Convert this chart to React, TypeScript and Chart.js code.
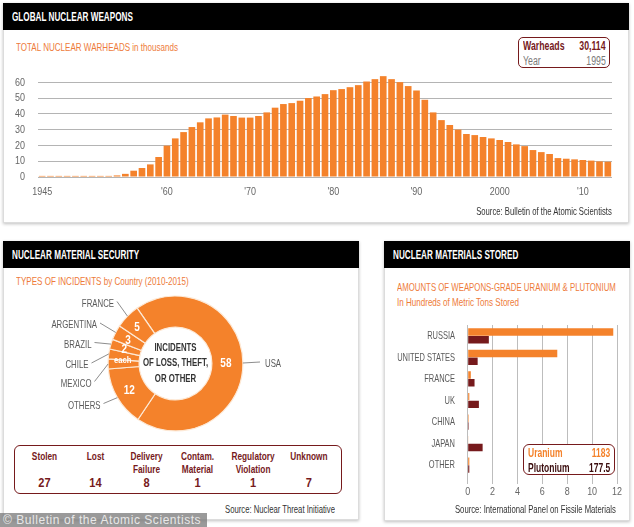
import { useEffect, useRef } from 'react';
import { Chart, registerables } from 'chart.js';

Chart.register(...registerables);

// no condensed face is installed, so Arial-metric text gets squeezed horizontally
const FONT = "'Liberation Sans', Arial, sans-serif";
const SX = 0.7;
const ORANGE = '#f4822b';
const SUB = '#ee7b3a';
const DARKRED = '#761a1c';

// --- global warheads (thousands) ---
const years = [
  1945, 1946, 1947, 1948, 1949, 1950, 1951, 1952, 1953, 1954,
  1955, 1956, 1957, 1958, 1959, 1960, 1961, 1962, 1963, 1964,
  1965, 1966, 1967, 1968, 1969, 1970, 1971, 1972, 1973, 1974,
  1975, 1976, 1977, 1978, 1979, 1980, 1981, 1982, 1983, 1984,
  1985, 1986, 1987, 1988, 1989, 1990, 1991, 1992, 1993, 1994,
  1995, 1996, 1997, 1998, 1999, 2000, 2001, 2002, 2003, 2004,
  2005, 2006, 2007, 2008, 2009, 2010, 2011, 2012, 2013,
];
const warheads = [
  0.7, 0.7, 0.7, 0.7, 0.7, 0.7, 0.7, 0.7, 0.7, 1.0,
  2.0, 4.0, 5.7, 8.0, 12.7, 19.9, 24.5, 28.5, 31.7, 34.7,
  37.2, 37.8, 39.6, 38.7, 37.7, 37.7, 38.7, 41.0, 44.0, 46.3,
  46.9, 48.4, 50.1, 51.1, 52.6, 55.1, 55.8, 57.0, 58.3, 60.6,
  62.1, 64.0, 62.1, 60.2, 57.7, 54.9, 49.0, 41.0, 36.1, 33.0,
  30.1, 27.3, 26.6, 25.4, 24.5, 23.5, 22.2, 20.7, 19.6, 17.1,
  15.8, 14.6, 12.0, 11.6, 11.2, 10.8, 10.4, 9.9, 9.7,
];
const yearTicks = [1945, 1960, 1970, 1980, 1990, 2000, 2010];
const yearTickLabels = ['1945', "'60", "'70", "'80", "'90", '2000', "'10"];

// --- incidents by country ---
const countries = ['USA', 'OTHERS', 'MEXICO', 'CHILE', 'BRAZIL', 'ARGENTINA', 'FRANCE'];
const incidents = [58, 12, 2, 2, 2, 3, 5];
const sliceLabels = ['58', '12', '', 'each', '2', '3', '5'];
const centerLines = ['INCIDENTS', 'OF LOSS, THEFT,', 'OR OTHER'];

const incidentTypes = [['Stolen'], ['Lost'], ['Delivery', 'Failure'], ['Contam.', 'Material'], ['Regulatory', 'Violation'], ['Unknown']];
const incidentTypeCounts = [27, 14, 8, 1, 1, 7];

// --- materials stored (hundreds of metric tons) ---
const storageCountries = ['RUSSIA', 'UNITED STATES', 'FRANCE', 'UK', 'CHINA', 'JAPAN', 'OTHER'];
const uranium = [11.7, 7.2, 0.25, 0.13, 0.08, 0.05, 0.13];
const plutonium = [1.7, 0.8, 0.55, 0.9, 0.08, 1.2, 0.13];
const storageTicks = [0, 2, 4, 6, 8, 10, 12];

// leader line ends for the donut labels, relative to the donut centre
const callouts = [
  { dx: 84.5, dy: -1.5 },
  { dx: -72, dy: 40 },
  { dx: -81, dy: 18 },
  { dx: -84, dy: -0.5 },
  { dx: -81, dy: -21 },
  { dx: -75.5, dy: -40.5 },
  { dx: -58.5, dy: -62 },
];

function drawSqueezed(ctx: any, text: string, x: number, y: number, align: string, sx: number) {
  ctx.save();
  ctx.translate(x, y);
  ctx.scale(sx, 1);
  ctx.textAlign = align;
  ctx.textBaseline = 'middle';
  ctx.fillText(text, 0, 0);
  ctx.restore();
}

// draws the tick labels of the given scales with a condensed look
const squeezedTicks = (cfg: any) => ({
  id: 'squeezedTicks',
  afterDraw(chart: any) {
    const ctx = chart.ctx;
    Object.keys(cfg).forEach((id) => {
      const o = cfg[id];
      const scale = chart.scales[id];
      ctx.save();
      ctx.fillStyle = o.color;
      ctx.font = `${o.size}px ${FONT}`;
      scale.ticks.forEach((t: any, i: number) => {
        if (t.label == null || t.label === '') return;
        const p = scale.getPixelForTick(i);
        if (scale.isHorizontal()) drawSqueezed(ctx, String(t.label), p, scale.top + o.offset, 'center', o.sx);
        else drawSqueezed(ctx, String(t.label), scale.right - o.offset, p, 'right', o.sx);
      });
      ctx.restore();
    });
  },
});

function WarheadsChart() {
  const canva = useRef<HTMLCanvasElement | null>(null);
  useEffect(() => {
    if (!canva.current) return;
    const chart = new Chart(canva.current, {
      type: 'bar',
      data: {
        labels: years,
        datasets: [{ data: warheads, backgroundColor: ORANGE, barPercentage: 0.8, categoryPercentage: 1 }],
      },
      options: {
        animation: false,
        responsive: false,
        layout: { padding: { top: 3, right: 22, left: 0, bottom: 0 } },
        plugins: { legend: { display: false }, tooltip: { enabled: false } },
        scales: {
          x: {
            grid: { display: false },
            border: { display: false },
            ticks: {
              display: false,
              autoSkip: false,
              callback: (_v: any, i: number) => {
                const k = yearTicks.indexOf(years[i]);
                return k >= 0 ? yearTickLabels[k] : null;
              },
            },
            afterFit: (s: any) => { s.height = 33; },
          },
          y: {
            min: 0,
            max: 66,
            ticks: { display: false, stepSize: 10, includeBounds: false },
            grid: { color: '#b4b4b4', drawTicks: false },
            border: { display: false },
            afterFit: (s: any) => { s.width = 38; },
          },
        },
      },
      plugins: [squeezedTicks({
        x: { color: '#666', size: 11.5, offset: 15, sx: 0.78 },
        y: { color: '#666', size: 11.5, offset: 13, sx: 0.78 },
      })],
    } as any);
    return () => chart.destroy();
  }, []);
  return (
    <canvas ref={canva} width={634} height={140}
      style={{ position: 'absolute', left: 0, top: 70, width: 634, height: 140 }} />
  );
}

const donutLabels = {
  id: 'donutLabels',
  afterDatasetsDraw(chart: any) {
    const ctx = chart.ctx;
    const meta = chart.getDatasetMeta(0);
    let cx = 0, cy = 0;
    ctx.save();
    meta.data.forEach((arc: any, i: number) => {
      const { x, y, startAngle, endAngle, outerRadius } = arc.getProps(['x', 'y', 'startAngle', 'endAngle', 'outerRadius'], true);
      cx = x; cy = y;
      const mid = (startAngle + endAngle) / 2;
      const ex = x + Math.cos(mid) * outerRadius;
      const ey = y + Math.sin(mid) * outerRadius;
      const c = callouts[i];
      const lx = x + c.dx, ly = y + c.dy;
      ctx.strokeStyle = '#808080';
      ctx.lineWidth = 0.9;
      ctx.beginPath();
      ctx.moveTo(ex, ey);
      ctx.lineTo(lx, ly);
      ctx.stroke();
      ctx.fillStyle = '#5a5a5a';
      ctx.font = `11.5px ${FONT}`;
      drawSqueezed(ctx, countries[i], lx + (c.dx > 0 ? 5 : -3), ly + 2, c.dx > 0 ? 'left' : 'right', 0.68);

      const p = arc.tooltipPosition(true);
      const txt = sliceLabels[i];
      if (txt) {
        const small = txt === 'each';
        ctx.fillStyle = '#ffffff';
        ctx.font = `bold ${small ? 9.5 : 12.5}px ${FONT}`;
        drawSqueezed(ctx, txt, p.x - 1.5, p.y + (small ? 4 : 0.5), 'center', 0.8);
      }
    });
    ctx.fillStyle = '#333333';
    ctx.font = `bold 11.5px ${FONT}`;
    centerLines.forEach((l, k) => drawSqueezed(ctx, l, cx, cy - 0.5 + (k - 1) * 15.5, 'center', 0.68));
    ctx.restore();
  },
};

function IncidentsDonut() {
  const canva = useRef<HTMLCanvasElement | null>(null);
  useEffect(() => {
    if (!canva.current) return;
    const chart = new Chart(canva.current, {
      type: 'doughnut',
      data: {
        labels: countries,
        datasets: [{ data: incidents, backgroundColor: ORANGE, borderColor: '#fde9d6', borderWidth: 1.2 }],
      },
      options: {
        animation: false,
        responsive: false,
        rotation: -34.7,
        cutout: '54%',
        layout: { padding: { left: 103.5, right: 114.5, top: 7.5, bottom: 8.5 } },
        plugins: { legend: { display: false }, tooltip: { enabled: false } },
      },
      plugins: [donutLabels],
    } as any);
    return () => chart.destroy();
  }, []);
  return (
    <canvas ref={canva} width={354} height={152}
      style={{ position: 'absolute', left: 4, top: 288, width: 354, height: 152 }} />
  );
}

function MaterialsChart() {
  const canva = useRef<HTMLCanvasElement | null>(null);
  useEffect(() => {
    if (!canva.current) return;
    const chart = new Chart(canva.current, {
      type: 'bar',
      data: {
        labels: storageCountries,
        datasets: [
          { label: 'Uranium', data: uranium, backgroundColor: ORANGE, barPercentage: 0.96, categoryPercentage: 0.72 },
          { label: 'Plutonium', data: plutonium, backgroundColor: DARKRED, barPercentage: 0.96, categoryPercentage: 0.72 },
        ],
      },
      options: {
        indexAxis: 'y',
        animation: false,
        responsive: false,
        layout: { padding: { top: 10, right: 13, left: 0, bottom: 0 } },
        plugins: { legend: { display: false }, tooltip: { enabled: false } },
        scales: {
          x: {
            min: 0,
            max: 12,
            afterBuildTicks: (s: any) => { s.ticks = storageTicks.map((v) => ({ value: v })); },
            ticks: { display: false },
            grid: { color: '#bdbdbd', drawTicks: true, tickLength: 8 },
            border: { display: false },
            afterFit: (s: any) => { s.height = 24; },
          },
          y: {
            grid: { display: false },
            border: { display: false },
            ticks: { display: false },
            afterFit: (s: any) => { s.width = 83.7; },
          },
        },
      },
      plugins: [squeezedTicks({
        x: { color: '#666', size: 11.5, offset: 16, sx: 0.78 },
        y: { color: '#5a5a5a', size: 11.5, offset: 12.7, sx: 0.65 },
      })],
    } as any);
    return () => chart.destroy();
  }, []);
  return (
    <canvas ref={canva} width={246} height={185}
      style={{ position: 'absolute', left: 384, top: 315, width: 246, height: 185 }} />
  );
}

function Text({ x, y, size = 11, color = '#333', bold = false, align = 'left', sx = SX, children }: any) {
  const style: any = {
    position: 'absolute', top: y - size / 2, fontSize: size, lineHeight: `${size}px`,
    color, fontWeight: bold ? 'bold' : 'normal', whiteSpace: 'nowrap',
    transform: `scaleX(${sx})`, transformOrigin: align === 'right' ? 'right center' : 'left center',
  };
  if (align === 'right') style.right = 634 - x; else style.left = x;
  return <div style={style}>{children}</div>;
}

function Panel({ x, y, w, h, title }: any) {
  return (
    <>
      <div style={{
        position: 'absolute', left: x, top: y, width: w, height: h, boxSizing: 'border-box',
        border: '1px solid #dcdcdc', boxShadow: '0 1px 3px rgba(0,0,0,0.25)', background: '#fff',
      }} />
      <div style={{ position: 'absolute', left: x, top: y, width: w, height: 27, background: '#000' }} />
      <Text x={x + 9.3} y={y + 13.5} size={12} bold color="#fff" sx={0.68}>{title}</Text>
    </>
  );
}

function Row({ top, left, right, color, bold, size, sx, a, b }: any) {
  const common: any = {
    position: 'absolute', top, fontSize: size, lineHeight: `${size}px`, color,
    fontWeight: bold ? 'bold' : 'normal', whiteSpace: 'nowrap', transform: `scaleX(${sx})`,
  };
  return (
    <>
      <div style={{ ...common, left, transformOrigin: 'left center' }}>{a}</div>
      <div style={{ ...common, right, transformOrigin: 'right center' }}>{b}</div>
    </>
  );
}

export default function App() {
  return (
    <div style={{
      position: 'absolute', left: 0, top: 0, width: 634, height: 527, overflow: 'hidden',
      background: '#fff', fontFamily: FONT,
    }}>
      <Panel x={3} y={3} w={626} h={220} title="GLOBAL NUCLEAR WEAPONS" />
      <Panel x={3} y={241} w={356} h={279} title="NUCLEAR MATERIAL SECURITY" />
      <Panel x={384} y={241} w={246} h={280} title="NUCLEAR MATERIALS STORED" />

      <Text x={16} y={48} color={SUB} size={11.5}>TOTAL NUCLEAR WARHEADS in thousands</Text>
      <WarheadsChart />
      <div style={{
        position: 'absolute', left: 518, top: 37, width: 92, height: 31, boxSizing: 'border-box',
        border: `1px solid ${DARKRED}`, borderRadius: 5, background: '#fff',
      }}>
        <Row top={2} left={4} right={3} size={12.5} sx={0.7} bold color={DARKRED} a="Warheads" b="30,114" />
        <Row top={17} left={4} right={3} size={12.5} sx={0.7} color="#7a7a7a" a="Year" b="1995" />
      </div>
      <Text x={612} y={211.5} size={11} align="right">Source: Bulletin of the Atomic Scientists</Text>

      <Text x={16} y={282} color={SUB} size={11.5}>TYPES OF INCIDENTS by Country (2010-2015)</Text>
      <IncidentsDonut />
      <div style={{
        position: 'absolute', left: 14, top: 445, width: 328, height: 49, boxSizing: 'border-box',
        border: `1px solid ${DARKRED}`, borderRadius: 6, display: 'flex', padding: '4px 6px 0 4px',
        color: DARKRED, fontWeight: 'bold',
      }}>
        {incidentTypes.map((t, i) => (
          <div key={i} style={{ flex: 1, textAlign: 'center' }}>
            <div style={{ fontSize: 11.5, lineHeight: '12.5px', height: 26, transform: 'scaleX(0.72)' }}>
              {t.map((l, k) => <div key={k} style={{ whiteSpace: 'nowrap' }}>{l}</div>)}
            </div>
            <div style={{ fontSize: 13.5, lineHeight: '14px', transform: 'scaleX(0.82)' }}>{incidentTypeCounts[i]}</div>
          </div>
        ))}
      </div>
      <Text x={335} y={509} size={11} align="right">Source: Nuclear Threat Initiative</Text>

      <Text x={397} y={287.5} size={11.5} color={SUB} sx={0.68}>AMOUNTS OF WEAPONS-GRADE URANIUM &amp; PLUTONIUM</Text>
      <Text x={397} y={302.5} size={11.5} color={SUB} sx={0.7}>In Hundreds of Metric Tons Stored</Text>
      <MaterialsChart />
      <div style={{
        position: 'absolute', left: 523, top: 444, width: 92, height: 31, boxSizing: 'border-box',
        border: `1px solid ${DARKRED}`, borderRadius: 6, background: '#fff',
      }}>
        <Row top={2} left={4} right={4} size={12.5} sx={0.68} bold color={ORANGE} a="Uranium" b="1183" />
        <Row top={16.5} left={4} right={4} size={12.5} sx={0.68} bold color="#3b0d0e" a="Plutonium" b="177.5" />
      </div>
      <Text x={616} y={509.5} size={11} align="right">Source: International Panel on Fissile Materials</Text>

      <div style={{
        position: 'absolute', left: 0, top: 513, width: 207, height: 14, background: 'rgba(120,120,120,0.75)',
        color: '#e8e8e8', fontSize: 12, lineHeight: '14px', paddingLeft: 3, boxSizing: 'border-box',
        letterSpacing: 0.55, whiteSpace: 'nowrap', overflow: 'hidden',
      }}>© Bulletin of the Atomic Scientists</div>
    </div>
  );
}
